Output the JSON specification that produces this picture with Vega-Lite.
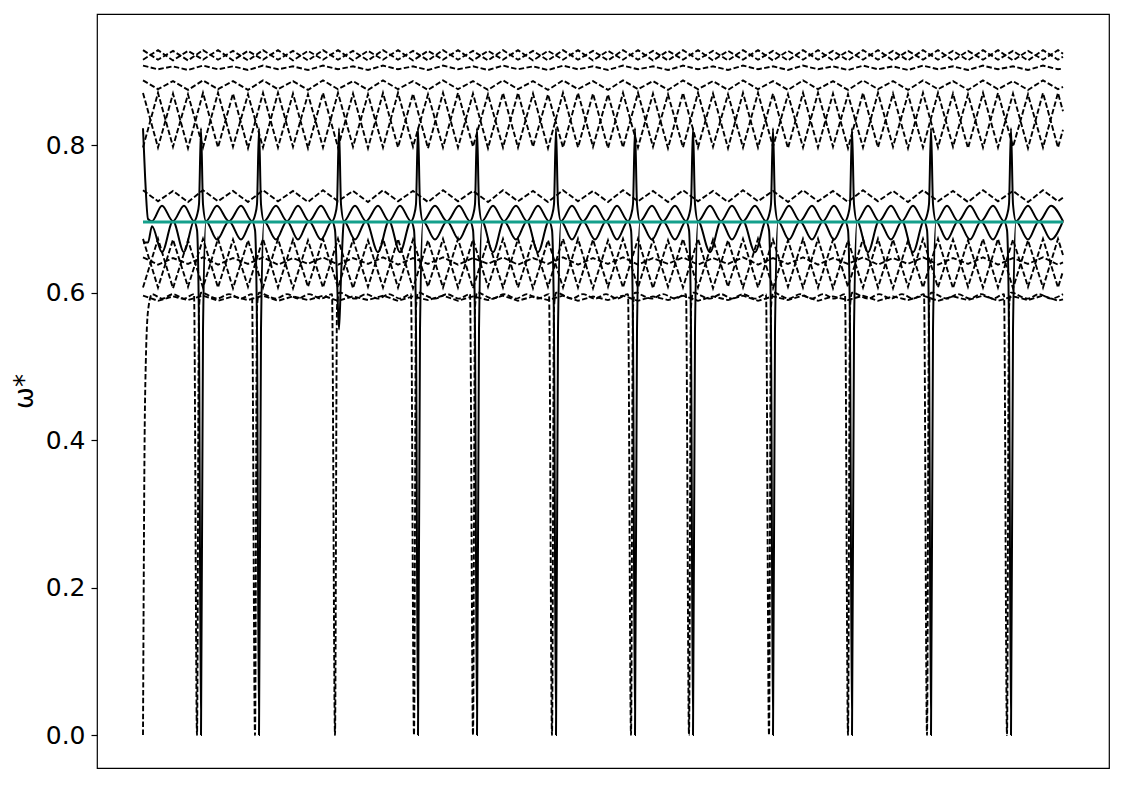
{
"$schema": "https://vega.github.io/schema/vega-lite/v6.json",
"width": 1012, "height": 754,
"autosize": {"type": "none"},
"padding": {"left": 97, "top": 14, "right": 16, "bottom": 17},
"background": "white",
"config": {"view": {"stroke": "black", "strokeWidth": 1.2}},
"datasets": {
"ref": [{"x": 143, "xe": 1063, "y": 0.696}],
"fine": [
{"x":143,"a":0.823,"b":0.668,"p":0},
{"x":145,"a":0.76,"b":0.668,"p":0.45},
{"x":148,"a":0.70,"b":0.668,"p":0.575},
{"x":152,"a":0.697,"b":0.69,"p":0.598},
{"x":162,"a":0.718,"b":0.655,"p":0.592},
{"x":173,"a":0.697,"b":0.697,"p":0.598},
{"x":184,"a":0.718,"b":0.655,"p":0.592},
{"x":194,"a":0.697,"b":0.697,"p":0.598},
{"x":197,"a":0.705,"b":0.685,"p":0},
{"x":199,"a":0.72,"b":0.55,"p":0.58},
{"x":201,"a":0.823,"b":0,"p":0.6},
{"x":203,"a":0.72,"b":0.55,"p":0.6},
{"x":206,"a":0.697,"b":0.697,"p":0.598},
{"x":217,"a":0.718,"b":0.672,"p":0.592},
{"x":229,"a":0.697,"b":0.697,"p":0.598},
{"x":241,"a":0.718,"b":0.672,"p":0.592},
{"x":252,"a":0.697,"b":0.697,"p":0.598},
{"x":255,"a":0.705,"b":0.685,"p":0},
{"x":257,"a":0.72,"b":0.55,"p":0.58},
{"x":259,"a":0.823,"b":0,"p":0.6},
{"x":261,"a":0.72,"b":0.55,"p":0.6},
{"x":264,"a":0.697,"b":0.697,"p":0.598},
{"x":276,"a":0.718,"b":0.672,"p":0.592},
{"x":287,"a":0.697,"b":0.697,"p":0.598},
{"x":298,"a":0.718,"b":0.672,"p":0.592},
{"x":309,"a":0.697,"b":0.697,"p":0.598},
{"x":321,"a":0.718,"b":0.672,"p":0.592},
{"x":332,"a":0.697,"b":0.697,"p":0.598},
{"x":335,"a":0.705,"b":0.685,"p":0},
{"x":337,"a":0.72,"b":0.62,"p":0.58},
{"x":339,"a":0.823,"b":0.55,"p":0.6},
{"x":341,"a":0.72,"b":0.62,"p":0.6},
{"x":344,"a":0.697,"b":0.697,"p":0.598},
{"x":355,"a":0.718,"b":0.672,"p":0.592},
{"x":366,"a":0.697,"b":0.697,"p":0.598},
{"x":378,"a":0.718,"b":0.655,"p":0.592},
{"x":389,"a":0.697,"b":0.697,"p":0.598},
{"x":400,"a":0.718,"b":0.655,"p":0.592},
{"x":411,"a":0.697,"b":0.697,"p":0.598},
{"x":414,"a":0.705,"b":0.685,"p":0},
{"x":416,"a":0.72,"b":0.55,"p":0.58},
{"x":418,"a":0.823,"b":0,"p":0.6},
{"x":420,"a":0.72,"b":0.55,"p":0.6},
{"x":423,"a":0.697,"b":0.697,"p":0.598},
{"x":435,"a":0.718,"b":0.672,"p":0.592},
{"x":447,"a":0.697,"b":0.697,"p":0.598},
{"x":459,"a":0.718,"b":0.672,"p":0.592},
{"x":470,"a":0.697,"b":0.697,"p":0.598},
{"x":473,"a":0.705,"b":0.685,"p":0},
{"x":475,"a":0.72,"b":0.55,"p":0.58},
{"x":477,"a":0.823,"b":0,"p":0.6},
{"x":479,"a":0.72,"b":0.55,"p":0.6},
{"x":482,"a":0.697,"b":0.697,"p":0.598},
{"x":493,"a":0.718,"b":0.655,"p":0.592},
{"x":504,"a":0.697,"b":0.697,"p":0.598},
{"x":516,"a":0.718,"b":0.672,"p":0.592},
{"x":527,"a":0.697,"b":0.697,"p":0.598},
{"x":538,"a":0.718,"b":0.655,"p":0.592},
{"x":549,"a":0.697,"b":0.697,"p":0.598},
{"x":552,"a":0.705,"b":0.685,"p":0},
{"x":554,"a":0.72,"b":0.55,"p":0.58},
{"x":556,"a":0.823,"b":0,"p":0.6},
{"x":558,"a":0.72,"b":0.55,"p":0.6},
{"x":561,"a":0.697,"b":0.697,"p":0.598},
{"x":572,"a":0.718,"b":0.672,"p":0.592},
{"x":583,"a":0.697,"b":0.697,"p":0.598},
{"x":595,"a":0.718,"b":0.672,"p":0.592},
{"x":606,"a":0.697,"b":0.697,"p":0.598},
{"x":617,"a":0.718,"b":0.672,"p":0.592},
{"x":628,"a":0.697,"b":0.697,"p":0.598},
{"x":631,"a":0.705,"b":0.685,"p":0},
{"x":633,"a":0.72,"b":0.55,"p":0.58},
{"x":635,"a":0.823,"b":0,"p":0.6},
{"x":637,"a":0.72,"b":0.55,"p":0.6},
{"x":640,"a":0.697,"b":0.697,"p":0.598},
{"x":652,"a":0.718,"b":0.672,"p":0.592},
{"x":663,"a":0.697,"b":0.697,"p":0.598},
{"x":675,"a":0.718,"b":0.672,"p":0.592},
{"x":686,"a":0.697,"b":0.697,"p":0.598},
{"x":689,"a":0.705,"b":0.685,"p":0},
{"x":691,"a":0.72,"b":0.55,"p":0.58},
{"x":693,"a":0.823,"b":0,"p":0.6},
{"x":695,"a":0.72,"b":0.55,"p":0.6},
{"x":698,"a":0.697,"b":0.697,"p":0.598},
{"x":710,"a":0.718,"b":0.655,"p":0.592},
{"x":721,"a":0.697,"b":0.697,"p":0.598},
{"x":732,"a":0.718,"b":0.672,"p":0.592},
{"x":743,"a":0.697,"b":0.697,"p":0.598},
{"x":755,"a":0.718,"b":0.655,"p":0.592},
{"x":766,"a":0.697,"b":0.697,"p":0.598},
{"x":769,"a":0.705,"b":0.685,"p":0},
{"x":771,"a":0.72,"b":0.55,"p":0.58},
{"x":773,"a":0.823,"b":0,"p":0.6},
{"x":775,"a":0.72,"b":0.55,"p":0.6},
{"x":778,"a":0.697,"b":0.697,"p":0.598},
{"x":789,"a":0.718,"b":0.672,"p":0.592},
{"x":800,"a":0.697,"b":0.697,"p":0.598},
{"x":812,"a":0.718,"b":0.672,"p":0.592},
{"x":823,"a":0.697,"b":0.697,"p":0.598},
{"x":834,"a":0.718,"b":0.672,"p":0.592},
{"x":845,"a":0.697,"b":0.697,"p":0.598},
{"x":848,"a":0.705,"b":0.685,"p":0},
{"x":850,"a":0.72,"b":0.55,"p":0.58},
{"x":852,"a":0.823,"b":0,"p":0.6},
{"x":854,"a":0.72,"b":0.55,"p":0.6},
{"x":857,"a":0.697,"b":0.697,"p":0.598},
{"x":868,"a":0.718,"b":0.655,"p":0.592},
{"x":879,"a":0.697,"b":0.697,"p":0.598},
{"x":891,"a":0.718,"b":0.672,"p":0.592},
{"x":902,"a":0.697,"b":0.697,"p":0.598},
{"x":913,"a":0.718,"b":0.655,"p":0.592},
{"x":924,"a":0.697,"b":0.697,"p":0.598},
{"x":927,"a":0.705,"b":0.685,"p":0},
{"x":929,"a":0.72,"b":0.55,"p":0.58},
{"x":931,"a":0.823,"b":0,"p":0.6},
{"x":933,"a":0.72,"b":0.55,"p":0.6},
{"x":936,"a":0.697,"b":0.697,"p":0.598},
{"x":947,"a":0.718,"b":0.672,"p":0.592},
{"x":958,"a":0.697,"b":0.697,"p":0.598},
{"x":970,"a":0.718,"b":0.672,"p":0.592},
{"x":981,"a":0.697,"b":0.697,"p":0.598},
{"x":993,"a":0.718,"b":0.672,"p":0.592},
{"x":1004,"a":0.697,"b":0.697,"p":0.598},
{"x":1007,"a":0.705,"b":0.685,"p":0},
{"x":1009,"a":0.72,"b":0.55,"p":0.58},
{"x":1011,"a":0.823,"b":0,"p":0.6},
{"x":1013,"a":0.72,"b":0.55,"p":0.6},
{"x":1016,"a":0.697,"b":0.697,"p":0.598},
{"x":1028,"a":0.718,"b":0.672,"p":0.592},
{"x":1039,"a":0.697,"b":0.697,"p":0.598},
{"x":1051,"a":0.718,"b":0.672,"p":0.592},
{"x":1063,"a":0.697,"b":0.697,"p":0.598}
],
"wave": [
{"x":143,"t1":0.929,"t2":0.916,"t3":0.908,"w":0.888,"z1":0.871,"z2":0.797,"m":0.739,"x1":0.673,"x2":0.607,"v":0.648,"q":0.596},
{"x":158,"t1":0.916,"t2":0.929,"t3":0.903,"w":0.876,"z1":0.797,"z2":0.871,"m":0.724,"x1":0.607,"x2":0.673,"v":0.638,"q":0.589},
{"x":173,"t1":0.928,"t2":0.915,"t3":0.907,"w":0.887,"z1":0.870,"z2":0.798,"m":0.738,"x1":0.672,"x2":0.606,"v":0.647,"q":0.595},
{"x":188,"t1":0.915,"t2":0.928,"t3":0.902,"w":0.875,"z1":0.796,"z2":0.869,"m":0.723,"x1":0.608,"x2":0.671,"v":0.639,"q":0.590},
{"x":203,"t1":0.929,"t2":0.916,"t3":0.908,"w":0.888,"z1":0.871,"z2":0.797,"m":0.739,"x1":0.673,"x2":0.607,"v":0.648,"q":0.596},
{"x":218,"t1":0.916,"t2":0.929,"t3":0.903,"w":0.876,"z1":0.797,"z2":0.871,"m":0.724,"x1":0.607,"x2":0.673,"v":0.638,"q":0.589},
{"x":233,"t1":0.928,"t2":0.915,"t3":0.907,"w":0.887,"z1":0.870,"z2":0.798,"m":0.738,"x1":0.672,"x2":0.606,"v":0.647,"q":0.595},
{"x":248,"t1":0.915,"t2":0.928,"t3":0.902,"w":0.875,"z1":0.796,"z2":0.869,"m":0.723,"x1":0.608,"x2":0.671,"v":0.639,"q":0.590},
{"x":263,"t1":0.929,"t2":0.916,"t3":0.908,"w":0.888,"z1":0.871,"z2":0.797,"m":0.739,"x1":0.673,"x2":0.607,"v":0.648,"q":0.596},
{"x":278,"t1":0.916,"t2":0.929,"t3":0.903,"w":0.876,"z1":0.797,"z2":0.871,"m":0.724,"x1":0.607,"x2":0.673,"v":0.638,"q":0.589},
{"x":293,"t1":0.928,"t2":0.915,"t3":0.907,"w":0.887,"z1":0.870,"z2":0.798,"m":0.738,"x1":0.672,"x2":0.606,"v":0.647,"q":0.595},
{"x":308,"t1":0.915,"t2":0.928,"t3":0.902,"w":0.875,"z1":0.796,"z2":0.869,"m":0.723,"x1":0.608,"x2":0.671,"v":0.639,"q":0.590},
{"x":323,"t1":0.929,"t2":0.916,"t3":0.908,"w":0.888,"z1":0.871,"z2":0.797,"m":0.739,"x1":0.673,"x2":0.607,"v":0.648,"q":0.596},
{"x":338,"t1":0.916,"t2":0.929,"t3":0.903,"w":0.876,"z1":0.797,"z2":0.871,"m":0.724,"x1":0.607,"x2":0.673,"v":0.638,"q":0.589},
{"x":353,"t1":0.928,"t2":0.915,"t3":0.907,"w":0.887,"z1":0.870,"z2":0.798,"m":0.738,"x1":0.672,"x2":0.606,"v":0.647,"q":0.595},
{"x":368,"t1":0.915,"t2":0.928,"t3":0.902,"w":0.875,"z1":0.796,"z2":0.869,"m":0.723,"x1":0.608,"x2":0.671,"v":0.639,"q":0.590},
{"x":383,"t1":0.929,"t2":0.916,"t3":0.908,"w":0.888,"z1":0.871,"z2":0.797,"m":0.739,"x1":0.673,"x2":0.607,"v":0.648,"q":0.596},
{"x":398,"t1":0.916,"t2":0.929,"t3":0.903,"w":0.876,"z1":0.797,"z2":0.871,"m":0.724,"x1":0.607,"x2":0.673,"v":0.638,"q":0.589},
{"x":413,"t1":0.928,"t2":0.915,"t3":0.907,"w":0.887,"z1":0.870,"z2":0.798,"m":0.738,"x1":0.672,"x2":0.606,"v":0.647,"q":0.595},
{"x":428,"t1":0.915,"t2":0.928,"t3":0.902,"w":0.875,"z1":0.796,"z2":0.869,"m":0.723,"x1":0.608,"x2":0.671,"v":0.639,"q":0.590},
{"x":443,"t1":0.929,"t2":0.916,"t3":0.908,"w":0.888,"z1":0.871,"z2":0.797,"m":0.739,"x1":0.673,"x2":0.607,"v":0.648,"q":0.596},
{"x":458,"t1":0.916,"t2":0.929,"t3":0.903,"w":0.876,"z1":0.797,"z2":0.871,"m":0.724,"x1":0.607,"x2":0.673,"v":0.638,"q":0.589},
{"x":473,"t1":0.928,"t2":0.915,"t3":0.907,"w":0.887,"z1":0.870,"z2":0.798,"m":0.738,"x1":0.672,"x2":0.606,"v":0.647,"q":0.595},
{"x":488,"t1":0.915,"t2":0.928,"t3":0.902,"w":0.875,"z1":0.796,"z2":0.869,"m":0.723,"x1":0.608,"x2":0.671,"v":0.639,"q":0.590},
{"x":503,"t1":0.929,"t2":0.916,"t3":0.908,"w":0.888,"z1":0.871,"z2":0.797,"m":0.739,"x1":0.673,"x2":0.607,"v":0.648,"q":0.596},
{"x":518,"t1":0.916,"t2":0.929,"t3":0.903,"w":0.876,"z1":0.797,"z2":0.871,"m":0.724,"x1":0.607,"x2":0.673,"v":0.638,"q":0.589},
{"x":533,"t1":0.928,"t2":0.915,"t3":0.907,"w":0.887,"z1":0.870,"z2":0.798,"m":0.738,"x1":0.672,"x2":0.606,"v":0.647,"q":0.595},
{"x":548,"t1":0.915,"t2":0.928,"t3":0.902,"w":0.875,"z1":0.796,"z2":0.869,"m":0.723,"x1":0.608,"x2":0.671,"v":0.639,"q":0.590},
{"x":563,"t1":0.929,"t2":0.916,"t3":0.908,"w":0.888,"z1":0.871,"z2":0.797,"m":0.739,"x1":0.673,"x2":0.607,"v":0.648,"q":0.596},
{"x":578,"t1":0.916,"t2":0.929,"t3":0.903,"w":0.876,"z1":0.797,"z2":0.871,"m":0.724,"x1":0.607,"x2":0.673,"v":0.638,"q":0.589},
{"x":593,"t1":0.928,"t2":0.915,"t3":0.907,"w":0.887,"z1":0.870,"z2":0.798,"m":0.738,"x1":0.672,"x2":0.606,"v":0.647,"q":0.595},
{"x":608,"t1":0.915,"t2":0.928,"t3":0.902,"w":0.875,"z1":0.796,"z2":0.869,"m":0.723,"x1":0.608,"x2":0.671,"v":0.639,"q":0.590},
{"x":623,"t1":0.929,"t2":0.916,"t3":0.908,"w":0.888,"z1":0.871,"z2":0.797,"m":0.739,"x1":0.673,"x2":0.607,"v":0.648,"q":0.596},
{"x":638,"t1":0.916,"t2":0.929,"t3":0.903,"w":0.876,"z1":0.797,"z2":0.871,"m":0.724,"x1":0.607,"x2":0.673,"v":0.638,"q":0.589},
{"x":653,"t1":0.928,"t2":0.915,"t3":0.907,"w":0.887,"z1":0.870,"z2":0.798,"m":0.738,"x1":0.672,"x2":0.606,"v":0.647,"q":0.595},
{"x":668,"t1":0.915,"t2":0.928,"t3":0.902,"w":0.875,"z1":0.796,"z2":0.869,"m":0.723,"x1":0.608,"x2":0.671,"v":0.639,"q":0.590},
{"x":683,"t1":0.929,"t2":0.916,"t3":0.908,"w":0.888,"z1":0.871,"z2":0.797,"m":0.739,"x1":0.673,"x2":0.607,"v":0.648,"q":0.596},
{"x":698,"t1":0.916,"t2":0.929,"t3":0.903,"w":0.876,"z1":0.797,"z2":0.871,"m":0.724,"x1":0.607,"x2":0.673,"v":0.638,"q":0.589},
{"x":713,"t1":0.928,"t2":0.915,"t3":0.907,"w":0.887,"z1":0.870,"z2":0.798,"m":0.738,"x1":0.672,"x2":0.606,"v":0.647,"q":0.595},
{"x":728,"t1":0.915,"t2":0.928,"t3":0.902,"w":0.875,"z1":0.796,"z2":0.869,"m":0.723,"x1":0.608,"x2":0.671,"v":0.639,"q":0.590},
{"x":743,"t1":0.929,"t2":0.916,"t3":0.908,"w":0.888,"z1":0.871,"z2":0.797,"m":0.739,"x1":0.673,"x2":0.607,"v":0.648,"q":0.596},
{"x":758,"t1":0.916,"t2":0.929,"t3":0.903,"w":0.876,"z1":0.797,"z2":0.871,"m":0.724,"x1":0.607,"x2":0.673,"v":0.638,"q":0.589},
{"x":773,"t1":0.928,"t2":0.915,"t3":0.907,"w":0.887,"z1":0.870,"z2":0.798,"m":0.738,"x1":0.672,"x2":0.606,"v":0.647,"q":0.595},
{"x":788,"t1":0.915,"t2":0.928,"t3":0.902,"w":0.875,"z1":0.796,"z2":0.869,"m":0.723,"x1":0.608,"x2":0.671,"v":0.639,"q":0.590},
{"x":803,"t1":0.929,"t2":0.916,"t3":0.908,"w":0.888,"z1":0.871,"z2":0.797,"m":0.739,"x1":0.673,"x2":0.607,"v":0.648,"q":0.596},
{"x":818,"t1":0.916,"t2":0.929,"t3":0.903,"w":0.876,"z1":0.797,"z2":0.871,"m":0.724,"x1":0.607,"x2":0.673,"v":0.638,"q":0.589},
{"x":833,"t1":0.928,"t2":0.915,"t3":0.907,"w":0.887,"z1":0.870,"z2":0.798,"m":0.738,"x1":0.672,"x2":0.606,"v":0.647,"q":0.595},
{"x":848,"t1":0.915,"t2":0.928,"t3":0.902,"w":0.875,"z1":0.796,"z2":0.869,"m":0.723,"x1":0.608,"x2":0.671,"v":0.639,"q":0.590},
{"x":863,"t1":0.929,"t2":0.916,"t3":0.908,"w":0.888,"z1":0.871,"z2":0.797,"m":0.739,"x1":0.673,"x2":0.607,"v":0.648,"q":0.596},
{"x":878,"t1":0.916,"t2":0.929,"t3":0.903,"w":0.876,"z1":0.797,"z2":0.871,"m":0.724,"x1":0.607,"x2":0.673,"v":0.638,"q":0.589},
{"x":893,"t1":0.928,"t2":0.915,"t3":0.907,"w":0.887,"z1":0.870,"z2":0.798,"m":0.738,"x1":0.672,"x2":0.606,"v":0.647,"q":0.595},
{"x":908,"t1":0.915,"t2":0.928,"t3":0.902,"w":0.875,"z1":0.796,"z2":0.869,"m":0.723,"x1":0.608,"x2":0.671,"v":0.639,"q":0.590},
{"x":923,"t1":0.929,"t2":0.916,"t3":0.908,"w":0.888,"z1":0.871,"z2":0.797,"m":0.739,"x1":0.673,"x2":0.607,"v":0.648,"q":0.596},
{"x":938,"t1":0.916,"t2":0.929,"t3":0.903,"w":0.876,"z1":0.797,"z2":0.871,"m":0.724,"x1":0.607,"x2":0.673,"v":0.638,"q":0.589},
{"x":953,"t1":0.928,"t2":0.915,"t3":0.907,"w":0.887,"z1":0.870,"z2":0.798,"m":0.738,"x1":0.672,"x2":0.606,"v":0.647,"q":0.595},
{"x":968,"t1":0.915,"t2":0.928,"t3":0.902,"w":0.875,"z1":0.796,"z2":0.869,"m":0.723,"x1":0.608,"x2":0.671,"v":0.639,"q":0.590},
{"x":983,"t1":0.929,"t2":0.916,"t3":0.908,"w":0.888,"z1":0.871,"z2":0.797,"m":0.739,"x1":0.673,"x2":0.607,"v":0.648,"q":0.596},
{"x":998,"t1":0.916,"t2":0.929,"t3":0.903,"w":0.876,"z1":0.797,"z2":0.871,"m":0.724,"x1":0.607,"x2":0.673,"v":0.638,"q":0.589},
{"x":1013,"t1":0.928,"t2":0.915,"t3":0.907,"w":0.887,"z1":0.870,"z2":0.798,"m":0.738,"x1":0.672,"x2":0.606,"v":0.647,"q":0.595},
{"x":1028,"t1":0.915,"t2":0.928,"t3":0.902,"w":0.875,"z1":0.796,"z2":0.869,"m":0.723,"x1":0.608,"x2":0.671,"v":0.639,"q":0.590},
{"x":1043,"t1":0.929,"t2":0.916,"t3":0.908,"w":0.888,"z1":0.871,"z2":0.797,"m":0.739,"x1":0.673,"x2":0.607,"v":0.648,"q":0.596},
{"x":1058,"t1":0.916,"t2":0.929,"t3":0.903,"w":0.876,"z1":0.797,"z2":0.871,"m":0.724,"x1":0.607,"x2":0.673,"v":0.638,"q":0.589},
{"x":1063,"t1":0.920,"t2":0.924,"t3":0.904,"w":0.879,"z1":0.821,"z2":0.846,"m":0.729,"x1":0.629,"x2":0.651,"v":0.641,"q":0.591}
]
},
"encoding": {
  "x": {"field": "x", "type": "quantitative", "scale": {"domain": [97, 1109], "nice": false, "zero": false}, "axis": null},
  "y": {"field": "y", "type": "quantitative", "scale": {"domain": [-0.0447, 0.978], "nice": false, "zero": false},
        "axis": {"values": [0, 0.2, 0.4, 0.6, 0.8], "format": ".1f", "grid": false, "domain": false,
                 "labelFont": "DejaVu Sans", "labelFontSize": 25, "labelColor": "black", "labelPadding": 6,
                 "tickColor": "black", "tickSize": 6, "tickWidth": 1.2,
                 "title": "ω*", "titleFont": "DejaVu Sans", "titleFontSize": 26, "titleFontWeight": "normal",
                 "titleColor": "black", "titlePadding": 8}}
},
"layer": [
  {"data": {"name": "wave"},
   "transform": [{"fold": ["t1", "t2", "t3", "w", "z1", "z2", "m", "x1", "x2", "v", "q"], "as": ["s", "y"]}],
   "mark": {"type": "line", "stroke": "black", "strokeWidth": 1.9, "strokeDash": [5.5, 2.4], "interpolate": "linear"},
   "encoding": {"detail": {"field": "s"}}},
  {"data": {"name": "fine"},
   "transform": [{"fold": ["p"], "as": ["s", "y"]}],
   "mark": {"type": "line", "stroke": "black", "strokeWidth": 1.9, "strokeDash": [5.5, 2.4], "interpolate": "monotone"},
   "encoding": {"detail": {"field": "s"}}},
  {"data": {"name": "fine"},
   "transform": [{"fold": ["a", "b"], "as": ["s", "y"]}],
   "mark": {"type": "line", "stroke": "black", "strokeWidth": 2, "interpolate": "monotone"},
   "encoding": {"detail": {"field": "s"}}},
  {"data": {"name": "ref"},
   "mark": {"type": "rule", "stroke": "#14a08c", "strokeWidth": 3},
   "encoding": {"x2": {"field": "xe"}}}
]
}
